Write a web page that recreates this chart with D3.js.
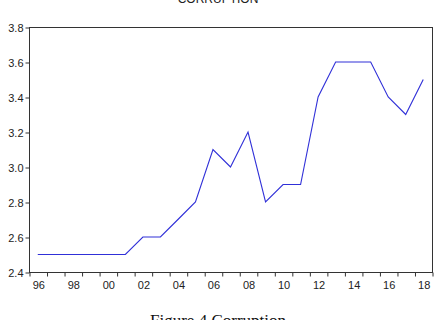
<!DOCTYPE html>
<html>
<head>
<meta charset="utf-8">
<script src="https://cdn.jsdelivr.net/npm/d3@7"></script>
<style>
  body { margin: 0; background: #fff; }
  svg { display: block; }
</style>
</head>
<body>
<div id="chart"></div>
<script>
  // data
  let years = [1996, 1997, 1998, 1999, 2000, 2001, 2002, 2003, 2004, 2005, 2006, 2007,
               2008, 2009, 2010, 2011, 2012, 2013, 2014, 2015, 2016, 2017, 2018];
  let corruption = [2.5, 2.5, 2.5, 2.5, 2.5, 2.5, 2.6, 2.6, 2.7, 2.8, 3.1, 3.0,
                    3.2, 2.8, 2.9, 2.9, 3.4, 3.6, 3.6, 3.6, 3.4, 3.3, 3.5];
  let yTicks = [2.4, 2.6, 2.8, 3.0, 3.2, 3.4, 3.6, 3.8];
  let xLabels = [1996, 1998, 2000, 2002, 2004, 2006, 2008, 2010, 2012, 2014, 2016, 2018];

  let width = 436, height = 320;
  let margin = { top: 27, right: 4, bottom: 48, left: 29 };
  let w = width - margin.left - margin.right;
  let h = height - margin.top - margin.bottom;

  let svg = d3.select('#chart')
    .append('svg')
    .attr('width', width)
    .attr('height', height);

  // title and caption, both clipped by the window edges
  svg.append('text')
    .attr('x', 218)
    .attr('y', 3)
    .attr('text-anchor', 'middle')
    .style('font-family', 'Liberation Sans, Arial, sans-serif')
    .style('font-size', '12px')
    .attr('fill', '#222')
    .text('CORRUPTION');

  svg.append('text')
    .attr('x', 218)
    .attr('y', 326)
    .attr('text-anchor', 'middle')
    .style('font-family', 'Liberation Serif, Times New Roman, serif')
    .style('font-size', '17px')
    .attr('fill', '#111')
    .text('Figure 4 Corruption');

  let g = svg.append('g')
    .attr('transform', 'translate(' + margin.left + ', ' + margin.top + ')');

  // each year is a slot, the point sits in its middle
  let xScale = d3.scaleLinear()
    .domain([years[0] - 0.5, years[years.length - 1] + 0.5])
    .range([0, w]);

  let yScale = d3.scaleLinear()
    .domain([2.4, 3.8])
    .range([h, 0]);

  // frame
  g.append('rect')
    .attr('x', 0.5)
    .attr('y', 0.5)
    .attr('width', w)
    .attr('height', h)
    .attr('fill', 'none')
    .attr('stroke', '#333')
    .attr('stroke-width', 1);

  let yAxis = d3.axisLeft(yScale)
    .tickValues(yTicks)
    .tickFormat(d3.format('.1f'))
    .tickSize(4)
    .tickPadding(2);

  g.append('g')
    .attr('transform', 'translate(0.5, 0.5)')
    .call(yAxis)
    .call(s => s.select('.domain').remove())
    .call(s => s.selectAll('line').attr('stroke', '#333'))
    .selectAll('text')
    .style('font-family', 'Liberation Sans, Arial, sans-serif')
    .style('font-size', '11px')
    .attr('fill', '#222');

  // tick marks on year boundaries
  let bounds = years.map(d => d - 0.5).concat([years[years.length - 1] + 0.5]);
  let xTicks = d3.axisBottom(xScale)
    .tickValues(bounds)
    .tickFormat('')
    .tickSize(4);

  g.append('g')
    .attr('transform', 'translate(0.5, ' + (h + 0.5) + ')')
    .call(xTicks)
    .call(s => s.select('.domain').remove())
    .selectAll('line').attr('stroke', '#333');

  // labels centred in the year slots
  let xAxis = d3.axisBottom(xScale)
    .tickValues(xLabels)
    .tickFormat(d => String(d).slice(2))
    .tickSize(0)
    .tickPadding(9);

  g.append('g')
    .attr('transform', 'translate(0.5, ' + (h + 0.5) + ')')
    .call(xAxis)
    .call(s => s.select('.domain').remove())
    .selectAll('text')
    .style('font-family', 'Liberation Sans, Arial, sans-serif')
    .style('font-size', '11px')
    .attr('fill', '#222');

  let line = d3.line()
    .x((d, i) => xScale(years[i]))
    .y(d => yScale(d));

  g.append('path')
    .datum(corruption)
    .attr('d', line)
    .attr('fill', 'none')
    .attr('stroke', '#3030d8')
    .attr('stroke-width', 1.1);
</script>
</body>
</html>
